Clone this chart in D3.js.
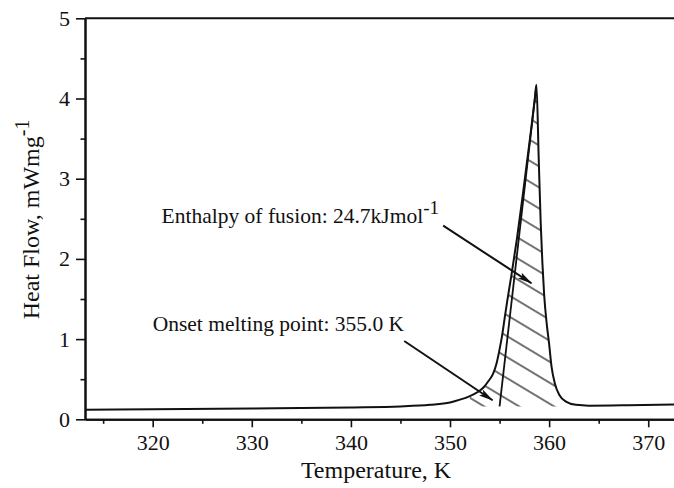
<!DOCTYPE html>
<html>
<meta charset="utf-8">
<style type="text/css">
  body { margin: 0; background: #fff; }
  svg { display: block; font-family: "Liberation Serif", "Times New Roman", serif; }
</style>
<body>
<svg width="674" height="488"></svg>
<script src="https://d3js.org/d3.v7.min.js"></script>
<script>

// DSC trace (K, mW/mg)
const temps = [313.2, 320, 330, 340, 345, 348, 350, 351, 352, 352.8, 353.4, 353.9, 354.35, 354.7,
  354.98, 355.25, 355.5, 355.78, 356.2, 356.75, 357.45, 358.17, 358.56, 358.72,
  358.95, 359.15, 359.32, 359.5, 359.75, 360.0, 360.24, 360.57, 361.05, 361.7, 362.7, 364.0, 368.0, 372.6];
const heatFlow = [0.12, 0.125, 0.135, 0.148, 0.16, 0.18, 0.21, 0.245, 0.29, 0.34, 0.40, 0.48, 0.57, 0.70,
  0.86, 1.04, 1.25, 1.48, 1.80, 2.25, 2.9, 3.6, 4.0, 4.17,
  3.25, 2.45, 1.95, 1.55, 1.2, 0.94, 0.66, 0.45, 0.30, 0.22, 0.18, 0.17, 0.175, 0.185];

// onset tangent line
const tangentT = [355.0, 358.7];
const tangentV = [0.16, 4.15];

// hatched peak area limits
const peakRange = [352, 362.7];
const peakBase = 0.16;

const xTicks = [320, 330, 340, 350, 360, 370];
const xMinor = [315, 325, 335, 345, 355, 365];
const yTicks = [0, 1, 2, 3, 4, 5];
const yMinor = [0.5, 1.5, 2.5, 3.5, 4.5];

// annotations: text anchor and arrow start/end in data units
const enthalpyText = {t: 320.9, v: 2.444, label: "Enthalpy of fusion: 24.7kJmol", sup: "-1"};
const enthalpyArrow = [[349.31, 2.414], [358.22, 1.696]];
const onsetText = {t: 320.0, v: 1.101, label: "Onset melting point: 355.0 K"};
const onsetArrow = [[345.38, 0.976], [354.29, 0.237]];

const svg = d3.select('svg');
const W = +svg.attr('width');
const H = +svg.attr('height');
const margin = {top: 18.3, left: 85, bottom: 68.7, right: 0};

const x = d3.scaleLinear().domain([313.17, 372.6]).range([margin.left, W - margin.right]);
const y = d3.scaleLinear().domain([0, 5]).range([H - margin.bottom, margin.top]);

const defs = svg.append('defs');
defs.append('pattern')
    .attr('id', 'hatch')
    .attr('patternUnits', 'userSpaceOnUse')
    .attr('width', 18).attr('height', 18)
    .attr('patternTransform', 'rotate(31)')
  .append('line')
    .attr('x1', 0).attr('y1', 9).attr('x2', 18).attr('y2', 9)
    .attr('stroke', '#000').attr('stroke-width', 1.1);

defs.append('marker')
    .attr('id', 'arrow')
    .attr('markerUnits', 'userSpaceOnUse')
    .attr('viewBox', '0 0 15 7')
    .attr('refX', 14).attr('refY', 3.5)
    .attr('markerWidth', 15).attr('markerHeight', 7)
    .attr('orient', 'auto')
  .append('path')
    .attr('d', 'M0,0 L15,3.5 L0,7 L3,3.5 Z')
    .attr('fill', '#111');

const pts = temps.map((t, i) => [t, heatFlow[i]]);

// hatched peak
const peakPts = pts.filter(d => d[0] >= peakRange[0] && d[0] <= peakRange[1]);
peakPts.push([peakRange[1], peakBase]);
peakPts.push([peakRange[0], peakBase]);
svg.append('path')
    .attr('d', d3.line().x(d => x(d[0])).y(d => y(d[1]))(peakPts) + 'Z')
    .attr('fill', 'url(#hatch)')
    .attr('stroke', 'none');

// curve
svg.append('path')
    .datum(pts)
    .attr('d', d3.line().x(d => x(d[0])).y(d => y(d[1])).curve(d3.curveMonotoneX))
    .attr('fill', 'none')
    .attr('stroke', '#111')
    .attr('stroke-width', 2);

// tangent
svg.append('line')
    .attr('x1', x(tangentT[0])).attr('y1', y(tangentV[0]))
    .attr('x2', x(tangentT[1])).attr('y2', y(tangentV[1]))
    .attr('stroke', '#111').attr('stroke-width', 1.8);

// axes
const fs = 22;
svg.append('g')
    .attr('transform', `translate(0,${y(0)})`)
    .call(d3.axisBottom(x).tickValues(xTicks).tickSize(8).tickSizeOuter(0).tickPadding(7).tickFormat(d3.format('d')));
svg.append('g')
    .attr('transform', `translate(0,${y(0)})`)
    .call(d3.axisBottom(x).tickValues(xMinor).tickSize(4.5).tickSizeOuter(0).tickFormat(''));

svg.append('g')
    .attr('transform', `translate(${x.range()[0]},0)`)
    .call(d3.axisLeft(y).tickValues(yTicks).tickSize(9).tickSizeOuter(0).tickPadding(6).tickFormat(d3.format('d')));
svg.append('g')
    .attr('transform', `translate(${x.range()[0]},0)`)
    .call(d3.axisLeft(y).tickValues(yMinor).tickSize(4.5).tickSizeOuter(0).tickFormat(''));

svg.selectAll('.domain').attr('stroke', '#111').attr('stroke-width', 2);
svg.selectAll('.tick line').attr('stroke', '#111').attr('stroke-width', 1.6);
svg.selectAll('.tick text')
    .attr('font-family', '"Liberation Serif", serif')
    .attr('font-size', fs)
    .attr('fill', '#111');

// top frame
svg.append('line')
    .attr('x1', x.range()[0]).attr('x2', x.range()[1])
    .attr('y1', y(5)).attr('y2', y(5))
    .attr('stroke', '#111').attr('stroke-width', 2);

// axis titles
svg.append('text')
    .attr('x', 376).attr('y', 478.3)
    .attr('text-anchor', 'middle')
    .attr('font-size', 24)
    .attr('fill', '#111')
    .text('Temperature, K');

const yl = svg.append('text')
    .attr('transform', 'translate(39,319.3) rotate(-90)')
    .attr('font-size', 24)
    .attr('fill', '#111');
yl.append('tspan').text('Heat Flow, mWmg');
yl.append('tspan').attr('dy', -10).attr('font-size', 20).text('-1');

// annotations
const annSize = 21.5;
const t1 = svg.append('text')
    .attr('x', x(enthalpyText.t)).attr('y', y(enthalpyText.v))
    .attr('font-size', annSize).attr('fill', '#111');
t1.append('tspan').text(enthalpyText.label);
t1.append('tspan').attr('dy', -9).attr('font-size', 19).text(enthalpyText.sup);

svg.append('text')
    .attr('x', x(onsetText.t)).attr('y', y(onsetText.v))
    .attr('font-size', annSize).attr('fill', '#111')
    .text(onsetText.label);

[enthalpyArrow, onsetArrow].forEach(a => {
  svg.append('line')
      .attr('x1', x(a[0][0])).attr('y1', y(a[0][1]))
      .attr('x2', x(a[1][0])).attr('y2', y(a[1][1]))
      .attr('stroke', '#111').attr('stroke-width', 2)
      .attr('marker-end', 'url(#arrow)');
});

</script>
</body>
</html>
